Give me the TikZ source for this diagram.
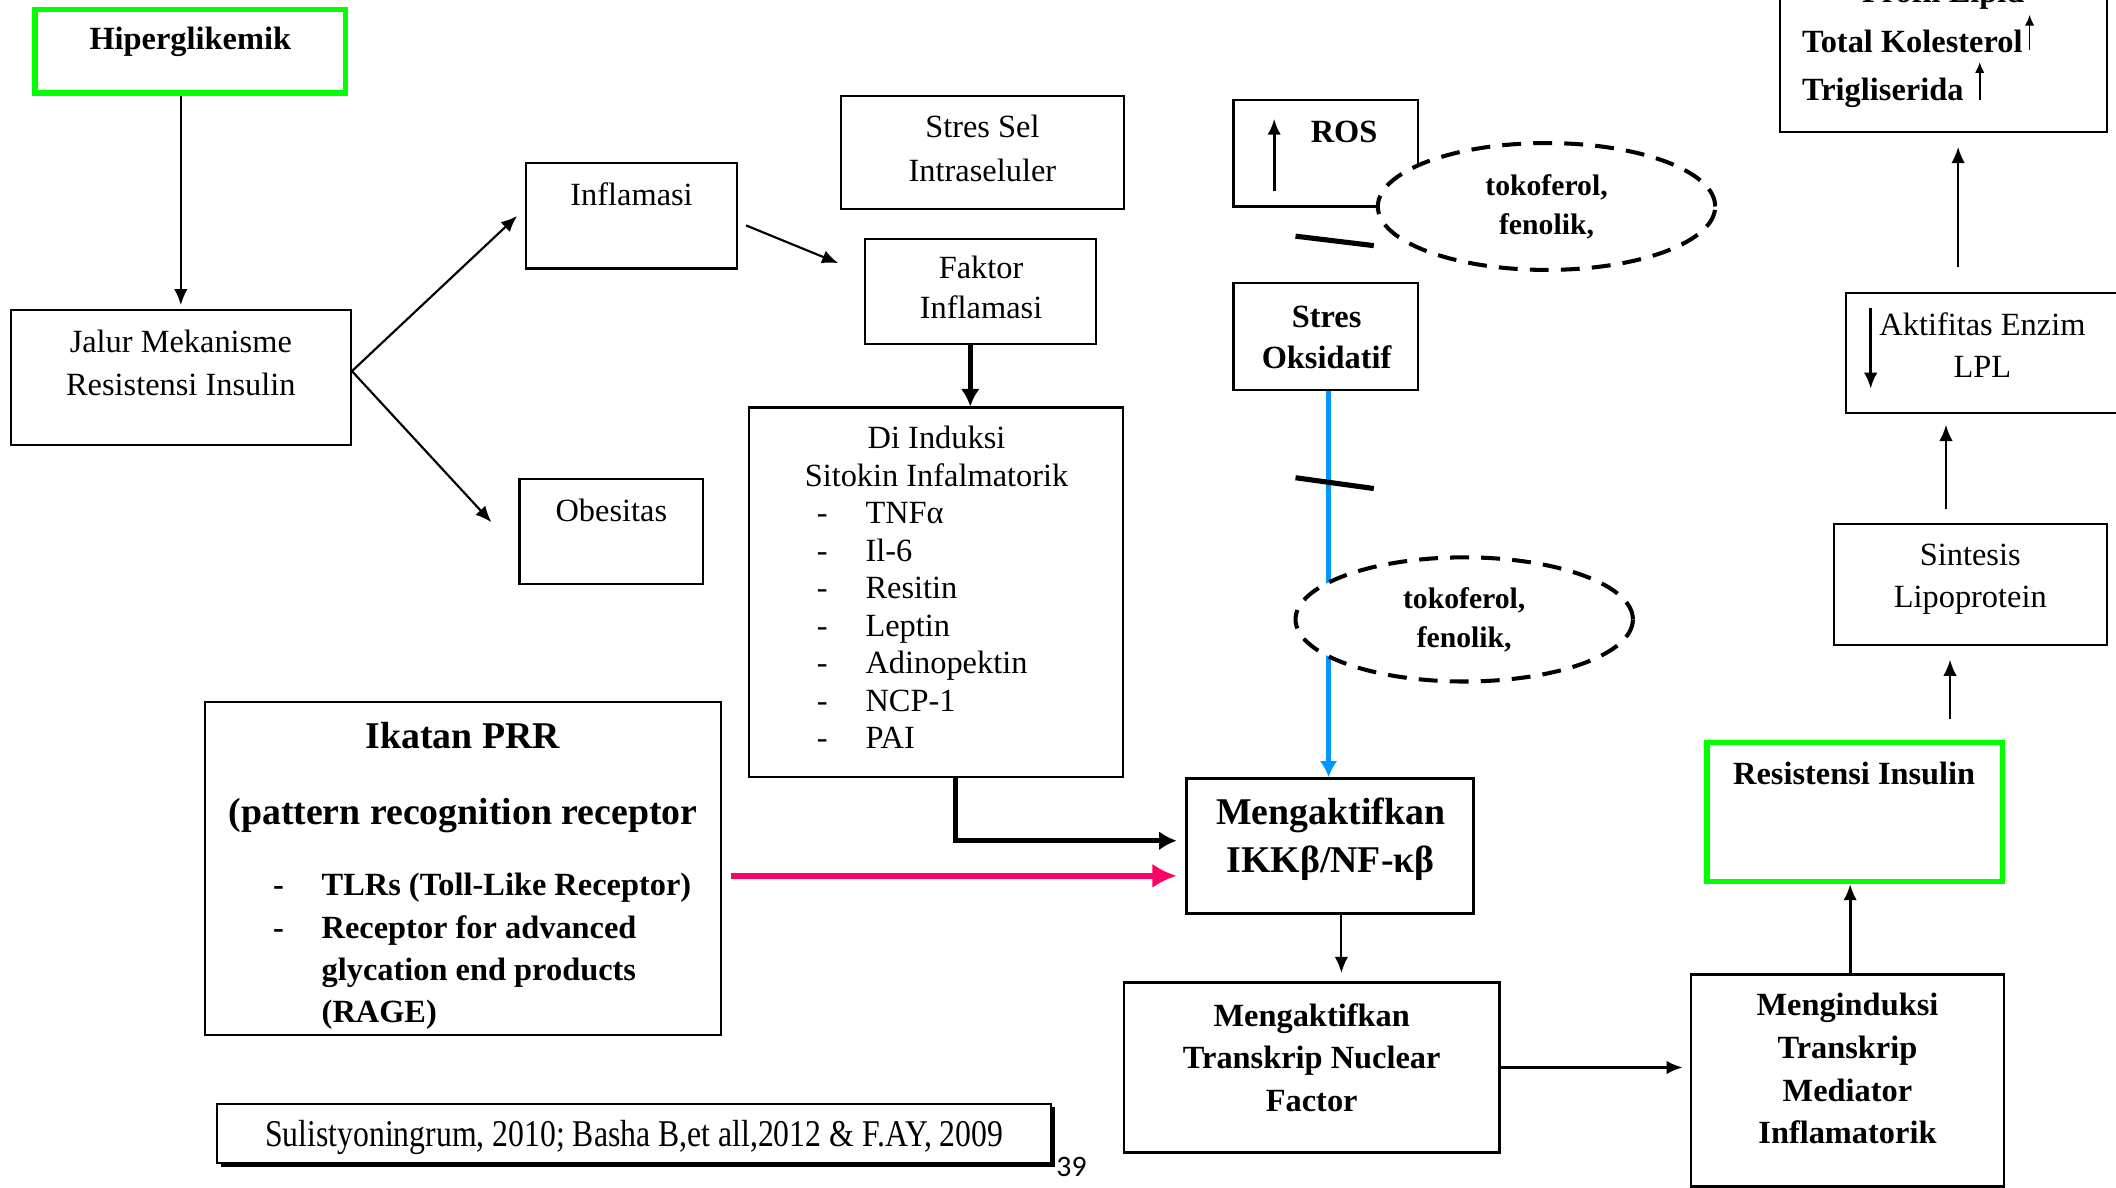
\documentclass[tikz,border=0pt]{standalone}
\usepackage{fontspec}
\usepackage{graphicx}
\setmainfont{Liberation Serif}
\newfontfamily\pagefont{Carlito}
\usetikzlibrary{arrows.meta,positioning,shapes.geometric,shadows}

\definecolor{boxgreen}{RGB}{0,255,0}
\definecolor{arrblue}{RGB}{0,150,255}
\definecolor{arrpink}{RGB}{255,0,102}

\newcommand{\dashitem}[1]{\makebox[18pt][l]{-}#1}

\tikzset{
  box/.style={draw, line width=0.8pt, rectangle, inner sep=0pt},
  greenbox/.style={draw=boxgreen, line width=2pt, rectangle, inner sep=0pt},
  txt/.style={align=center, inner sep=0pt, font=\fontsize{12}{16}\selectfont},
  btxt/.style={align=center, inner sep=0pt, font=\fontsize{12}{16}\selectfont\bfseries},
  arr/.style={line width=0.8pt, -{Latex[length=6pt,width=5pt]}},
  smallarr/.style={line width=0.6pt, -{Latex[length=4pt,width=3.5pt]}},
  thickarr/.style={line width=1.8pt, -{Latex[length=6.5pt,width=7pt]}},
  bluearr/.style={draw=arrblue, line width=1.6pt, -{Latex[length=6pt,width=6.5pt]}},
  pinkarr/.style={draw=arrpink, line width=2.4pt, -{Latex[length=9pt,width=9pt]}},
  dashell/.style={ellipse, draw, fill=white, line width=1.5pt, dash pattern=on 7pt off 4.5pt,
    inner sep=0pt, align=center, font=\fontsize{11}{14.5}\selectfont\bfseries},
  bar/.style={line width=1.9pt}
}

\begin{document}
\begin{tikzpicture}[x=0.5pt, y=-0.5pt]
\useasboundingbox (0,0) rectangle (1568,880);
\fill[white] (0,0) rectangle (1568,880);
\clip (0,0) rectangle (1568,880);

% left side
\node[greenbox, minimum width=115pt, minimum height=31pt] (hiper) at (141,38) {};
\node[btxt] (hiperT) at (141,31) {Hiperglikemik};

\node[box, minimum width=126pt, minimum height=50pt] (jalur) at (134,280) {};
\node[txt] (jalurT) at (134,269) {Jalur Mekanisme\\Resistensi Insulin};

\node[box, minimum width=78pt, minimum height=39pt] (inflam) at (468,160) {};
\node[txt] (inflamT) at (468,144) {Inflamasi};

\node[box, minimum width=68pt, minimum height=39pt] (obes) at (453,394) {};
\node[txt] (obesT) at (453,378) {Obesitas};

\node[box, minimum width=105pt, minimum height=42pt] (stressel) at (728,113) {};
\node[txt] (stresselT) at (728,110) {Stres Sel\\Intraseluler};

\node[box, minimum width=85.5pt, minimum height=39pt] (faktor) at (726.5,216) {};
\node[txt, font=\fontsize{12}{14.5}\selectfont] (faktorT) at (727,213) {Faktor\\Inflamasi};

\node[box, minimum width=138.5pt, minimum height=137pt] (diind) at (693.5,439) {};
\node[txt, font=\fontsize{12}{14}\selectfont] (diindT) at (694,338) {Di Induksi\\Sitokin Infalmatorik};
\node[txt, align=left, anchor=west, font=\fontsize{12}{13.9}\selectfont] (diindL) at (605,463.5)
  {\dashitem{TNFα}\\ \dashitem{Il-6}\\ \dashitem{Resitin}\\ \dashitem{Leptin}\\
   \dashitem{Adinopektin}\\ \dashitem{NCP-1}\\ \dashitem{PAI}};

\node[box, minimum width=191pt, minimum height=123.5pt] (prr) at (343,643.5) {};
\node[btxt, font=\fontsize{14}{18}\selectfont\bfseries] (prrT) at (343,576)
  {Ikatan PRR\\[10pt](pattern recognition receptor};
\node[btxt, align=left, anchor=west, font=\fontsize{12}{15.7}\selectfont\bfseries] (prrL) at (202,705)
  {\dashitem{TLRs (Toll-Like Receptor)}\\ \dashitem{Receptor for advanced}\\
   \hspace*{18pt}glycation end products\\ \hspace*{18pt}(RAGE)};

\node[box, fill=white, minimum width=309pt, minimum height=22pt,
  drop shadow={shadow xshift=1.3pt, shadow yshift=-1.3pt, fill=black, opacity=1}] (cite) at (470,840) {};
\node[inner sep=0pt, font=\fontsize{14}{16}\selectfont] (citeT) at (470,843)
  {\scalebox{0.84}[1]{Sulistyoningrum, 2010; Basha B,et all,2012 \& F.AY, 2009}};
\node[inner sep=0pt, font=\pagefont\fontsize{11}{13}\selectfont] (page) at (794,865) {39};

% middle column
\node[box, minimum width=68.5pt, minimum height=39.5pt] (stres) at (982.5,249.5) {};
\node[btxt, font=\fontsize{12}{15.5}\selectfont\bfseries] (stresT) at (983,250) {Stres\\Oksidatif};

\node[box, line width=1pt, minimum width=106.5pt, minimum height=50pt] (ikk) at (985.5,627) {};
\node[btxt, font=\fontsize{14}{18}\selectfont\bfseries] (ikkT) at (986,622) {Mengaktifkan\\IKKβ/NF-κβ};

\node[box, line width=1pt, minimum width=139pt, minimum height=63pt] (trans) at (972,791) {};
\node[btxt, font=\fontsize{12}{15.75}\selectfont\bfseries] (transT) at (972,783.5)
  {Mengaktifkan\\Transkrip Nuclear\\Factor};

\draw[bluearr] ([xshift=1pt]stres.south) -- ([xshift=1pt]stres.south |- ikk.north);
\draw[bar] (960,354) -- (1018,362);
\node[dashell, minimum width=125pt, minimum height=46pt] (ell2) at (1085,459) {tokoferol,\\fenolik,};

\node[box, minimum width=68.5pt, minimum height=39.5pt] (ros) at (982.5,113.5) {};
\node[btxt] (rosT) at (996,98) {ROS};
\draw[arr, line width=1.2pt] ([xshift=15.5pt,yshift=6pt]ros.south west) -- ++(0,-54);
\node[dashell, minimum width=125pt, minimum height=47pt] (ell1) at (1146,153) {tokoferol,\\fenolik,};
\draw[bar] (960,175) -- (1018,182);

% right column
\node[box, line width=1pt, minimum width=116pt, minimum height=78.5pt] (mengind) at (1369,800.5) {};
\node[btxt, font=\fontsize{12}{15.8}\selectfont\bfseries] (mengindT) at (1369,792)
  {Menginduksi\\Transkrip\\Mediator\\Inflamatorik};

\node[greenbox, minimum width=109.5pt, minimum height=51.5pt] (resist) at (1374.5,601.5) {};
\node[btxt] (resistT) at (1374,573) {Resistensi Insulin};

\node[box, minimum width=101pt, minimum height=45pt] (sint) at (1460,433) {};
\node[txt, font=\fontsize{12}{15.5}\selectfont] (sintT) at (1460,429) {Sintesis\\Lipoprotein};

\node[box, minimum width=106pt, minimum height=44.5pt] (aktif) at (1474,261.5) {};
\node[txt, font=\fontsize{12}{15.5}\selectfont] (aktifT) at (1469,255.5) {Aktifitas Enzim\\LPL};
\draw[arr, line width=1.2pt] ([xshift=9.5pt,yshift=-6pt]aktif.north west) -- ++(0,60);

\node[box, minimum width=121pt, minimum height=69pt] (profil) at (1440,29) {};
\node[btxt] (profilT) at (1440,-4) {Profil Lipid};
\node[btxt, align=left, anchor=west, font=\fontsize{12}{18}\selectfont\bfseries] (profilL) at (1335,51)
  {Total Kolesterol\\Trigliserida};
\draw[smallarr] (1504,37) -- (1504,11);
\draw[smallarr] (1467,74) -- (1467,46);

% connectors
\draw[arr, shorten >=1.5pt] (jalur.north |- hiper.south) -- (jalur.north);
\coordinate (jalurOut) at ([yshift=2.5pt]jalur.east);
\draw[arr] (jalurOut) -- ([xshift=-3pt]inflam.west);
\draw[arr] (jalurOut) -- ([xshift=-10pt,yshift=3.5pt]obes.west);
\draw[arr] ([xshift=3pt,yshift=-3.5pt]inflam.east) -- ([xshift=-9.5pt,yshift=10.5pt]faktor.west);
\draw[thickarr] ([xshift=-3.75pt]faktor.south) -- ([xshift=-3.75pt]faktor.south |- diind.north);
\draw[thickarr] ([xshift=7.25pt]diind.south) |- ([xshift=-3pt,yshift=2pt]ikk.west);
\draw[pinkarr] ([xshift=3.5pt,yshift=-2.75pt]prr.east) -- ([xshift=-3pt,yshift=-11pt]ikk.west);
\draw[arr, shorten >=3pt] ([xshift=4.25pt]ikk.south) -- ([xshift=4.25pt]ikk.south |- trans.north);
\draw[arr, line width=1.1pt, shorten >=2.5pt] (trans.east) -- (trans.east -| mengind.west);
\draw[arr, line width=1.1pt] ([xshift=1pt]mengind.north) -- ([xshift=1pt]mengind.north |- resist.south);
\draw[arr, shorten <=7.5pt, shorten >=5pt] ([xshift=35.25pt]resist.north) -- ([xshift=35.25pt]resist.north |- sint.south);
\draw[arr, shorten <=5pt, shorten >=4pt] ([xshift=-9pt]sint.north) -- ([xshift=-9pt]sint.north |- aktif.south);
\draw[arr, shorten <=9pt, shorten >=5pt] ([xshift=5.5pt]profil.south |- aktif.north) -- ([xshift=5.5pt]profil.south);
\end{tikzpicture}
\end{document}
